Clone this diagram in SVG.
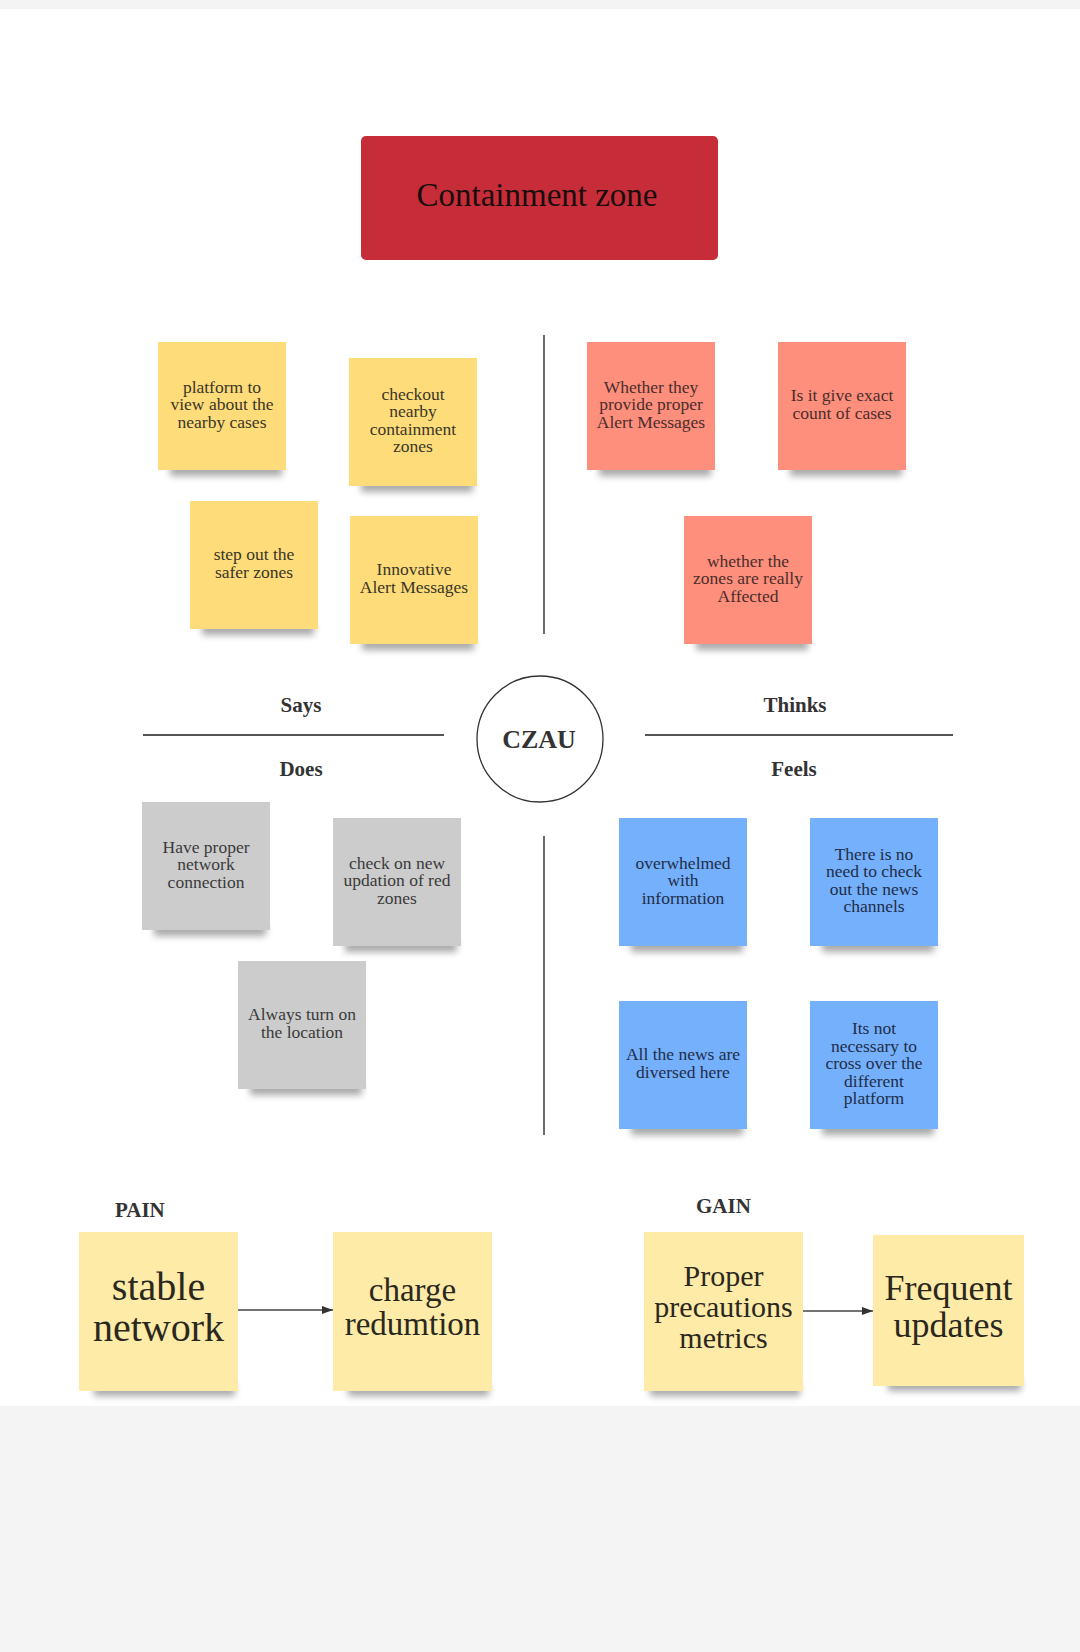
<svg xmlns="http://www.w3.org/2000/svg" width="1080" height="1652" viewBox="0 0 1080 1652">
<defs>
<filter id="blur" x="-20%" y="-200%" width="140%" height="500%"><feGaussianBlur stdDeviation="3.5"/></filter>
<marker id="arr" markerUnits="userSpaceOnUse" markerWidth="11" markerHeight="8" refX="11" refY="4" orient="auto"><path d="M0,0 L11,4 L0,8 z" fill="#333"/></marker>
<style>
.sh{fill:#000;opacity:.34;filter:url(#blur)}
.t{font-family:"Liberation Serif","DejaVu Serif",serif;font-size:17.5px;text-anchor:middle}
.y{fill:#fedc7a}.r{fill:#fe8f7d}.g{fill:#cccccc}.b{fill:#74b0fb}.p{fill:#feeba7}
.ty{fill:#3a3628}.tr{fill:#4a2d2a}.tg{fill:#3a3a3a}.tb{fill:#1f2d48}.tp{fill:#2a281e}
.lab{font-family:"Liberation Serif","DejaVu Serif",serif;font-weight:bold;font-size:21px;fill:#333;text-anchor:middle}
.big{font-family:"Liberation Serif","DejaVu Serif",serif;text-anchor:middle;fill:#2a281e}
.div{stroke:#444;stroke-width:1.6;fill:none}
.con{stroke:#444;stroke-width:1.4;fill:none;marker-end:url(#arr)}
</style>
</defs>
<rect x="0" y="0" width="1080" height="1652" fill="#ffffff"/>
<rect x="0" y="0" width="1080" height="9" fill="#f4f4f4"/>
<rect x="0" y="1406" width="1080" height="246" fill="#f4f4f4"/>

<g id="title">
<rect x="361" y="136" width="357" height="124" rx="5" fill="#c62d39"/>
<text x="537" y="206" style="font-family:'Liberation Serif','DejaVu Serif',serif;font-size:33px;text-anchor:middle;fill:#1a0d0d">Containment zone</text>
</g>

<g id="dividers">
<line class="div" x1="544" y1="335" x2="544" y2="634"/>
<line class="div" x1="544" y1="836" x2="544" y2="1135"/>
<line class="div" x1="143" y1="735" x2="444" y2="735" style="stroke:#555;stroke-width:2"/>
<line class="div" x1="645" y1="735" x2="953" y2="735" style="stroke:#555;stroke-width:2"/>
</g>

<g id="center">
<circle cx="540" cy="739" r="63" fill="#fff" stroke="#333" stroke-width="1.3"/>
<text class="lab" x="539" y="748" style="font-size:26px">CZAU</text>
</g>
<g id="labels">
<text class="lab" x="301" y="712">Says</text>
<text class="lab" x="301" y="776">Does</text>
<text class="lab" x="795" y="712">Thinks</text>
<text class="lab" x="794" y="776">Feels</text>
<text class="lab" x="115" y="1217" style="text-anchor:start">PAIN</text>
<text class="lab" x="696" y="1213" style="text-anchor:start">GAIN</text>
</g>

<g id="says-1"><rect class="sh" x="170" y="464" width="112" height="12"/><rect class="y" x="158" y="342" width="128" height="128"/>
<text class="t ty"><tspan x="222" y="392.5">platform to</tspan><tspan x="222" y="410">view about the</tspan><tspan x="222" y="427.5">nearby cases</tspan></text></g>
<g id="says-2"><rect class="sh" x="361" y="480" width="112" height="12"/><rect class="y" x="349" y="358" width="128" height="128"/>
<text class="t ty"><tspan x="413" y="399.75">checkout</tspan><tspan x="413" y="417.25">nearby</tspan><tspan x="413" y="434.75">containment</tspan><tspan x="413" y="452.25">zones</tspan></text></g>
<g id="says-3"><rect class="sh" x="202" y="623" width="112" height="12"/><rect class="y" x="190" y="501" width="128" height="128"/>
<text class="t ty"><tspan x="254" y="560.25">step out the</tspan><tspan x="254" y="577.75">safer zones</tspan></text></g>
<g id="says-4"><rect class="sh" x="362" y="638" width="112" height="12"/><rect class="y" x="350" y="516" width="128" height="128"/>
<text class="t ty"><tspan x="414" y="575.25">Innovative</tspan><tspan x="414" y="592.75">Alert Messages</tspan></text></g>

<g id="thinks-1"><rect class="sh" x="599" y="464" width="112" height="12"/><rect class="r" x="587" y="342" width="128" height="128"/>
<text class="t tr"><tspan x="651" y="392.5">Whether they</tspan><tspan x="651" y="410">provide proper</tspan><tspan x="651" y="427.5">Alert Messages</tspan></text></g>
<g id="thinks-2"><rect class="sh" x="790" y="464" width="112" height="12"/><rect class="r" x="778" y="342" width="128" height="128"/>
<text class="t tr"><tspan x="842" y="401.25">Is it give exact</tspan><tspan x="842" y="418.75">count of cases</tspan></text></g>
<g id="thinks-3"><rect class="sh" x="696" y="638" width="112" height="12"/><rect class="r" x="684" y="516" width="128" height="128"/>
<text class="t tr"><tspan x="748" y="566.5">whether the</tspan><tspan x="748" y="584">zones are really</tspan><tspan x="748" y="601.5">Affected</tspan></text></g>

<g id="does-1"><rect class="sh" x="154" y="924" width="112" height="12"/><rect class="g" x="142" y="802" width="128" height="128"/>
<text class="t tg"><tspan x="206" y="852.5">Have proper</tspan><tspan x="206" y="870">network</tspan><tspan x="206" y="887.5">connection</tspan></text></g>
<g id="does-2"><rect class="sh" x="345" y="940" width="112" height="12"/><rect class="g" x="333" y="818" width="128" height="128"/>
<text class="t tg"><tspan x="397" y="868.5">check on new</tspan><tspan x="397" y="886">updation of red</tspan><tspan x="397" y="903.5">zones</tspan></text></g>
<g id="does-3"><rect class="sh" x="250" y="1083" width="112" height="12"/><rect class="g" x="238" y="961" width="128" height="128"/>
<text class="t tg"><tspan x="302" y="1020.25">Always turn on</tspan><tspan x="302" y="1037.75">the location</tspan></text></g>

<g id="feels-1"><rect class="sh" x="631" y="940" width="112" height="12"/><rect class="b" x="619" y="818" width="128" height="128"/>
<text class="t tb"><tspan x="683" y="868.5">overwhelmed</tspan><tspan x="683" y="886">with</tspan><tspan x="683" y="903.5">information</tspan></text></g>
<g id="feels-2"><rect class="sh" x="822" y="940" width="112" height="12"/><rect class="b" x="810" y="818" width="128" height="128"/>
<text class="t tb"><tspan x="874" y="859.75">There is no</tspan><tspan x="874" y="877.25">need to check</tspan><tspan x="874" y="894.75">out the news</tspan><tspan x="874" y="912.25">channels</tspan></text></g>
<g id="feels-3"><rect class="sh" x="631" y="1123" width="112" height="12"/><rect class="b" x="619" y="1001" width="128" height="128"/>
<text class="t tb"><tspan x="683" y="1060.25">All the news are</tspan><tspan x="683" y="1077.75">diversed here</tspan></text></g>
<g id="feels-4"><rect class="sh" x="822" y="1123" width="112" height="12"/><rect class="b" x="810" y="1001" width="128" height="128"/>
<text class="t tb"><tspan x="874" y="1034">Its not</tspan><tspan x="874" y="1051.5">necessary to</tspan><tspan x="874" y="1069">cross over the</tspan><tspan x="874" y="1086.5">different</tspan><tspan x="874" y="1104">platform</tspan></text></g>

<g id="pain-1"><rect class="sh" x="94" y="1384" width="141" height="12"/><rect class="p" x="79" y="1232" width="159" height="159"/>
<text class="big" style="font-size:40px"><tspan x="158.5" y="1300">stable</tspan><tspan x="158.5" y="1341">network</tspan></text></g>
<g id="pain-2"><rect class="sh" x="348" y="1384" width="141" height="12"/><rect class="p" x="333" y="1232" width="159" height="159"/>
<text class="big" style="font-size:33px"><tspan x="412.5" y="1301">charge</tspan><tspan x="412.5" y="1335">redumtion</tspan></text></g>
<g id="gain-1"><rect class="sh" x="650" y="1384" width="150" height="12"/><rect class="p" x="644" y="1232" width="159" height="159"/>
<text class="big" style="font-size:30px"><tspan x="723.5" y="1286">Proper</tspan><tspan x="723.5" y="1317">precautions</tspan><tspan x="723.5" y="1348">metrics</tspan></text></g>
<g id="gain-2"><rect class="sh" x="888" y="1379" width="133" height="12"/><rect class="p" x="873" y="1235" width="151" height="151"/>
<text class="big" style="font-size:36px"><tspan x="948.5" y="1300">Frequent</tspan><tspan x="948.5" y="1337">updates</tspan></text></g>

<g id="connectors">
<line class="con" x1="238" y1="1310" x2="333" y2="1310"/>
<line class="con" x1="803" y1="1311" x2="873" y2="1311"/>
</g>
</svg>
